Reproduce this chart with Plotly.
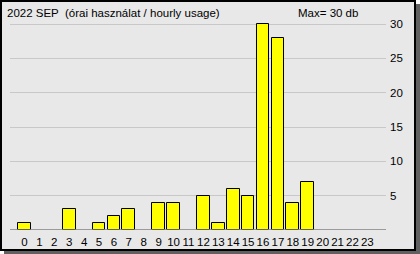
import plotly.graph_objects as go

hours = list(range(24))
usage = [1, 0, 0, 3, 0, 1, 2, 3, 0, 4, 4, 0, 5, 1, 6, 5, 30, 28, 4, 7, 0, 0, 0, 0]
y_ticks = [5, 10, 15, 20, 25, 30]
title_text = "2022 SEP  (órai használat / hourly usage)"
max_text = "Max= 30 db"

W, H = 420, 254
L, R, T, B = 10, 34, 20, 24
pw, ph = W - L - R, H - T - B


def px_x(p):
    return (p - L) / pw


def px_y(p):
    return (H - B - p) / ph


fig = go.Figure()
fig.add_trace(go.Bar(
    x=hours, y=[v if v else None for v in usage], width=0.85,
    marker=dict(color="#ffff00", line=dict(color="#000000", width=1)),
    hoverinfo="skip",
))

shapes = [
    dict(type="rect", xref="paper", yref="paper", layer="below",
         x0=px_x(4), x1=px_x(420), y0=px_y(254), y1=px_y(4),
         fillcolor="#606060", line=dict(width=0)),
    dict(type="rect", xref="paper", yref="paper", layer="below",
         x0=px_x(1), x1=px_x(415), y0=px_y(250), y1=px_y(1),
         fillcolor="#e8e8e8", line=dict(color="#000000", width=2)),
    dict(type="line", xref="paper", yref="y", layer="above",
         x0=0, x1=px_x(386), y0=0, y1=0,
         line=dict(color="#808080", width=1.5)),
]

fig.update_layout(
    template="none",
    width=W, height=H,
    margin=dict(l=L, r=R, t=T, b=B, pad=0, autoexpand=False),
    paper_bgcolor="#ffffff",
    plot_bgcolor="rgba(0,0,0,0)",
    showlegend=False,
    bargap=0,
    font=dict(family="Liberation Sans, Arial, sans-serif", size=11.5, color="#000000"),
    shapes=shapes,
    annotations=[
        dict(text=title_text, xref="paper", yref="paper", x=px_x(5), y=px_y(13),
             xanchor="left", yanchor="middle", showarrow=False,
             font=dict(size=11.5)),
        dict(text=max_text, xref="paper", yref="paper", x=px_x(328), y=px_y(13),
             xanchor="center", yanchor="middle", showarrow=False,
             font=dict(size=11.5)),
    ],
    xaxis=dict(
        range=[-0.97, 24.25], tickmode="array", tickvals=hours,
        ticktext=[str(h) for h in hours], showgrid=False, zeroline=False,
        showline=False, ticks="", ticklabelstandoff=3, fixedrange=True,
        automargin=False, tickangle=0, tickfont=dict(size=11.5),
    ),
    yaxis=dict(
        range=[0, 30.6], side="right", tickmode="array", tickvals=y_ticks,
        showgrid=True, gridcolor="#c8c8c8", gridwidth=1, zeroline=False,
        showline=False, ticks="", ticklabelstandoff=3, fixedrange=True,
        automargin=False, tickangle=0, tickfont=dict(size=11.5),
    ),
)

fig.write_html("out.html", config={"displayModeBar": False})
